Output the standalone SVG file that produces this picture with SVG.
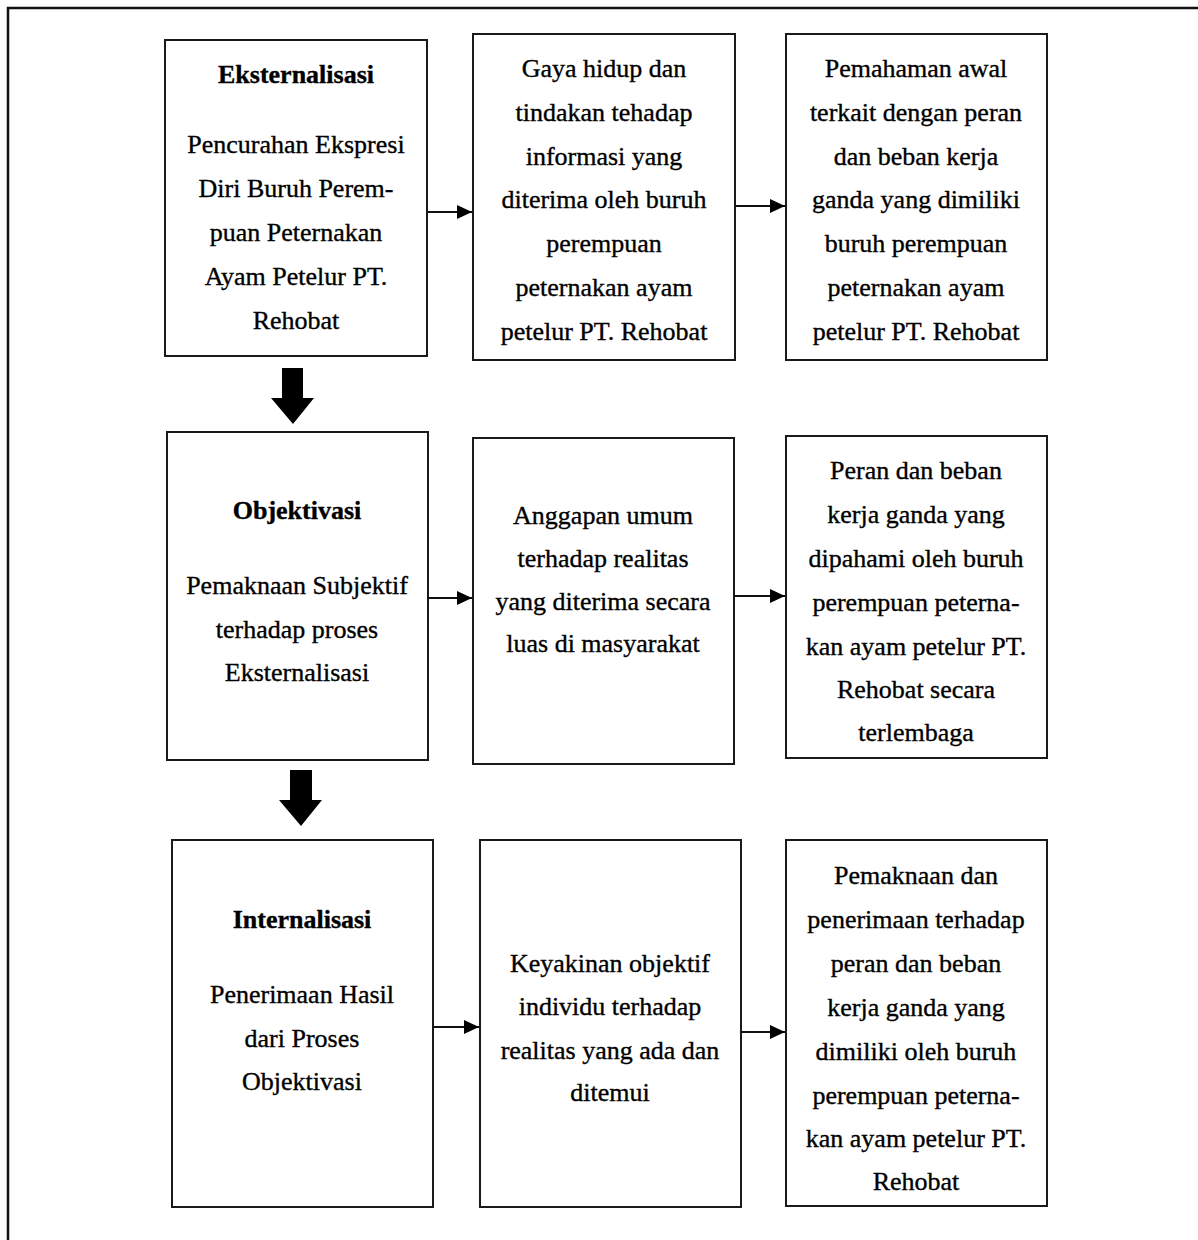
<svg xmlns="http://www.w3.org/2000/svg" width="1198" height="1240" viewBox="0 0 1198 1240">
<style>
.box{fill:#fff;stroke:#1a1a1a;stroke-width:2}
.t{font-family:"Liberation Serif","Times New Roman",serif;font-size:26px;fill:#000;stroke:#000;stroke-width:0.35;text-anchor:middle}
.b{font-weight:bold}
.conn{stroke:#111;stroke-width:2;fill:none}
.blk{fill:#000}
</style>
<defs>
<marker id="ah" markerUnits="userSpaceOnUse" markerWidth="16" markerHeight="14" refX="15" refY="7" orient="auto">
<path d="M0,0 L15,7 L0,14 Z" fill="#000"/>
</marker>
</defs>
<rect width="1198" height="1240" fill="#fff"/>
<path d="M8,1240 V8 H1198" fill="none" stroke="#111" stroke-width="2.5"/>

<g id="n-eksternalisasi">
<rect class="box" x="165" y="40" width="262" height="316"/>
<text class="t b" x="296" y="83">Eksternalisasi</text>
<text class="t" x="296" y="153">Pencurahan Ekspresi</text>
<text class="t" x="296" y="197">Diri Buruh Perem-</text>
<text class="t" x="296" y="241">puan Peternakan</text>
<text class="t" x="296" y="285">Ayam Petelur PT.</text>
<text class="t" x="296" y="329">Rehobat</text>
</g>
<g id="n-gaya">
<rect class="box" x="473" y="34" width="262" height="326"/>
<text class="t" x="604" y="77">Gaya hidup dan</text>
<text class="t" x="604" y="121">tindakan tehadap</text>
<text class="t" x="604" y="165">informasi yang</text>
<text class="t" x="604" y="208">diterima oleh buruh</text>
<text class="t" x="604" y="252">perempuan</text>
<text class="t" x="604" y="296">peternakan ayam</text>
<text class="t" x="604" y="340">petelur PT. Rehobat</text>
</g>
<g id="n-pemahaman">
<rect class="box" x="786" y="34" width="261" height="326"/>
<text class="t" x="916" y="77">Pemahaman awal</text>
<text class="t" x="916" y="121">terkait dengan peran</text>
<text class="t" x="916" y="165">dan beban kerja</text>
<text class="t" x="916" y="208">ganda yang dimiliki</text>
<text class="t" x="916" y="252">buruh perempuan</text>
<text class="t" x="916" y="296">peternakan ayam</text>
<text class="t" x="916" y="340">petelur PT. Rehobat</text>
</g>

<g id="n-objektivasi">
<rect class="box" x="167" y="432" width="261" height="328"/>
<text class="t b" x="297" y="519">Objektivasi</text>
<text class="t" x="297" y="594">Pemaknaan Subjektif</text>
<text class="t" x="297" y="638">terhadap proses</text>
<text class="t" x="297" y="681">Eksternalisasi</text>
</g>
<g id="n-anggapan">
<rect class="box" x="473" y="438" width="261" height="326"/>
<text class="t" x="603" y="524">Anggapan umum</text>
<text class="t" x="603" y="567">terhadap realitas</text>
<text class="t" x="603" y="610">yang diterima secara</text>
<text class="t" x="603" y="652">luas di masyarakat</text>
</g>
<g id="n-peran">
<rect class="box" x="786" y="436" width="261" height="322"/>
<text class="t" x="916" y="479">Peran dan beban</text>
<text class="t" x="916" y="523">kerja ganda yang</text>
<text class="t" x="916" y="567">dipahami oleh buruh</text>
<text class="t" x="916" y="611">perempuan peterna-</text>
<text class="t" x="916" y="655">kan ayam petelur PT.</text>
<text class="t" x="916" y="698">Rehobat secara</text>
<text class="t" x="916" y="741">terlembaga</text>
</g>

<g id="n-internalisasi">
<rect class="box" x="172" y="840" width="261" height="367"/>
<text class="t b" x="302" y="928">Internalisasi</text>
<text class="t" x="302" y="1003">Penerimaan Hasil</text>
<text class="t" x="302" y="1047">dari Proses</text>
<text class="t" x="302" y="1090">Objektivasi</text>
</g>
<g id="n-keyakinan">
<rect class="box" x="480" y="840" width="261" height="367"/>
<text class="t" x="610" y="972">Keyakinan objektif</text>
<text class="t" x="610" y="1015">individu terhadap</text>
<text class="t" x="610" y="1059">realitas yang ada dan</text>
<text class="t" x="610" y="1101">ditemui</text>
</g>
<g id="n-pemaknaan">
<rect class="box" x="786" y="840" width="261" height="366"/>
<text class="t" x="916" y="884">Pemaknaan dan</text>
<text class="t" x="916" y="928">penerimaan terhadap</text>
<text class="t" x="916" y="972">peran dan beban</text>
<text class="t" x="916" y="1016">kerja ganda yang</text>
<text class="t" x="916" y="1060">dimiliki oleh buruh</text>
<text class="t" x="916" y="1104">perempuan peterna-</text>
<text class="t" x="916" y="1147">kan ayam petelur PT.</text>
<text class="t" x="916" y="1190">Rehobat</text>
</g>

<g id="connectors">
<line class="conn" x1="427" y1="212" x2="472" y2="212" marker-end="url(#ah)"/>
<line class="conn" x1="735" y1="206" x2="785" y2="206" marker-end="url(#ah)"/>
<line class="conn" x1="428" y1="598" x2="472" y2="598" marker-end="url(#ah)"/>
<line class="conn" x1="734" y1="596" x2="785" y2="596" marker-end="url(#ah)"/>
<line class="conn" x1="433" y1="1027" x2="479" y2="1027" marker-end="url(#ah)"/>
<line class="conn" x1="741" y1="1032" x2="785" y2="1032" marker-end="url(#ah)"/>
<polygon class="blk" points="282,368 303,368 303,398 314,398 293,424 271,398 282,398"/>
<polygon class="blk" points="290,770 312,770 312,800 322,800 301,826 279,800 290,800"/>
</g>
</svg>
